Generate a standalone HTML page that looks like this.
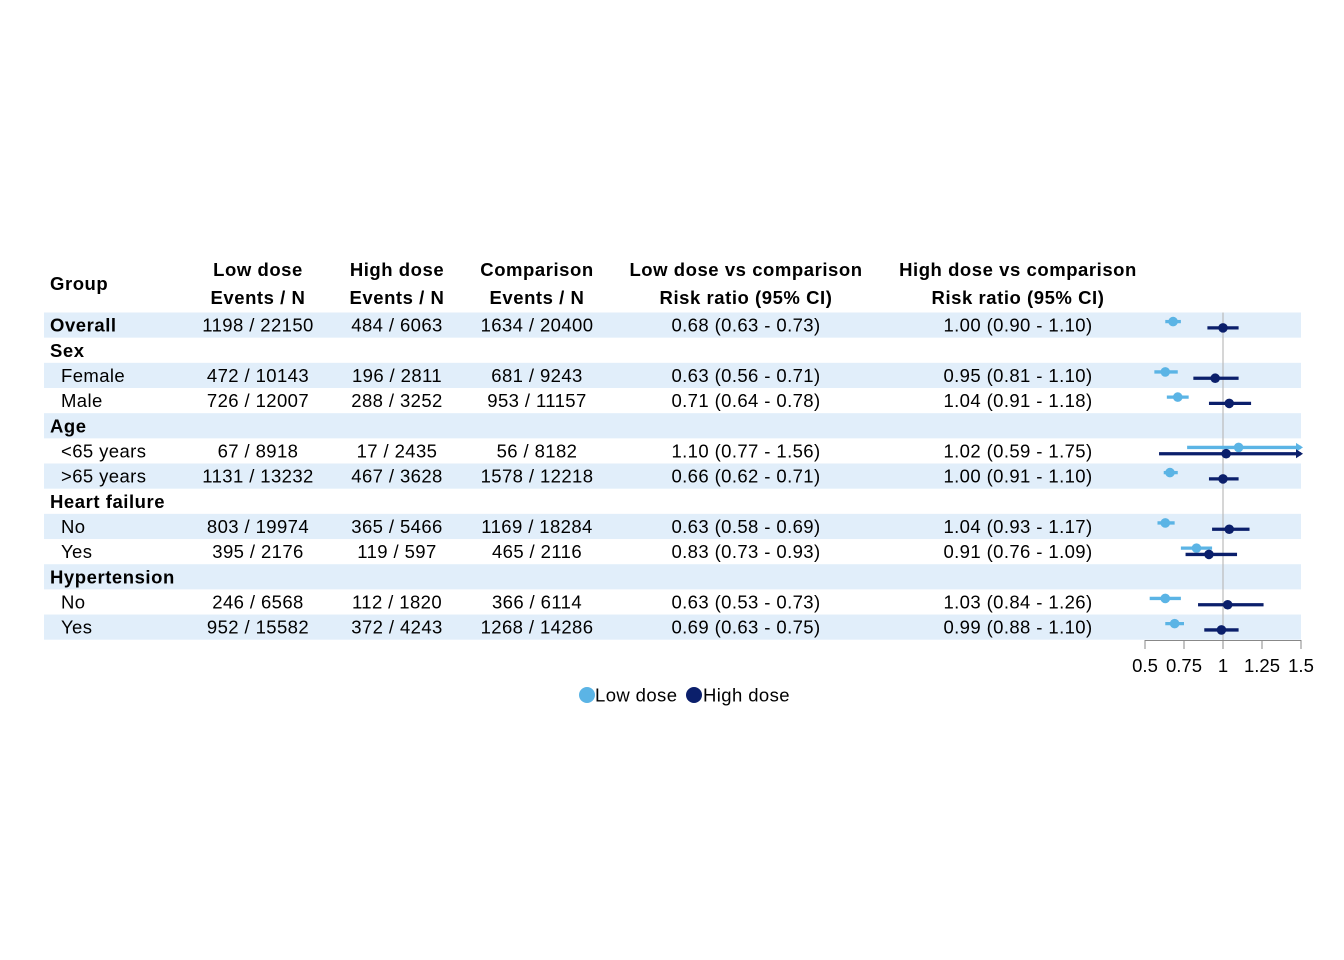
<!DOCTYPE html>
<html><head><meta charset="utf-8"><style>
body{margin:0;background:#fff;}
svg{display:block;font-family:"Liberation Sans",Arial,sans-serif;}
</style></head><body>
<svg id="chart" width="1344" height="960" xmlns="http://www.w3.org/2000/svg"></svg>
<script>
const labels=["Overall","Sex","Female","Male","Age","<65 years",">65 years","Heart failure","No","Yes","Hypertension","No","Yes"];
const isHeader=[1,1,0,0,1,0,0,1,0,0,1,0,0];
const shaded=[1,0,1,0,1,0,1,0,1,0,1,0,1];
const lowN=["1198 / 22150","","472 / 10143","726 / 12007","","67 / 8918","1131 / 13232","","803 / 19974","395 / 2176","","246 / 6568","952 / 15582"];
const highN=["484 / 6063","","196 / 2811","288 / 3252","","17 / 2435","467 / 3628","","365 / 5466","119 / 597","","112 / 1820","372 / 4243"];
const compN=["1634 / 20400","","681 / 9243","953 / 11157","","56 / 8182","1578 / 12218","","1169 / 18284","465 / 2116","","366 / 6114","1268 / 14286"];
const lowRR=[0.68,null,0.63,0.71,null,1.10,0.66,null,0.63,0.83,null,0.63,0.69];
const lowLo=[0.63,null,0.56,0.64,null,0.77,0.62,null,0.58,0.73,null,0.53,0.63];
const lowHi=[0.73,null,0.71,0.78,null,1.56,0.71,null,0.69,0.93,null,0.73,0.75];
const highRR=[1.00,null,0.95,1.04,null,1.02,1.00,null,1.04,0.91,null,1.03,0.99];
const highLo=[0.90,null,0.81,0.91,null,0.59,0.91,null,0.93,0.76,null,0.84,0.88];
const highHi=[1.10,null,1.10,1.18,null,1.75,1.10,null,1.17,1.09,null,1.26,1.10];
const ticks=[0.5,0.75,1,1.25,1.5];
const tickLabels=["0.5","0.75","1","1.25","1.5"];

const NS="http://www.w3.org/2000/svg";
const svg=document.getElementById('chart');
function mk(tag,attrs,parent){const e=document.createElementNS(NS,tag);for(const k in attrs)e.setAttribute(k,attrs[k]);(parent||svg).appendChild(e);return e;}
function txt(x,y,s,opts){const e=mk('text',Object.assign({x:x,y:y,'font-size':18.5,'letter-spacing':0.4,fill:'#000','text-anchor':'middle'},opts||{}));e.textContent=s;return e;}
const xMin=0.5,xMax=1.5,px0=1145,px1=1301;
const xs=v=>px0+(Math.min(Math.max(v,xMin),xMax)-xMin)/(xMax-xMin)*(px1-px0);
const rowTop=312.5,rowH=25.17;
const yc=i=>rowTop+rowH*i+rowH/2;
const LIGHT="#5bb4e5",DARK="#0b1f6b";

for(let i=0;i<labels.length;i++){
  if(shaded[i]){const r=mk('rect',{x:44,y:rowTop+rowH*i,width:1257,height:rowH,fill:'#e1eefa'});
  
  }
}
const hdrs=[[258,"Low dose","Events / N"],[397,"High dose","Events / N"],[537,"Comparison","Events / N"],[746,"Low dose vs comparison","Risk ratio (95% CI)"],[1018,"High dose vs comparison","Risk ratio (95% CI)"]];
let g=txt(50,290,"Group",{'text-anchor':'start','font-weight':'bold','letter-spacing':0.55});

hdrs.forEach(h=>{
  let a=txt(h[0],276,h[1],{'font-weight':'bold','letter-spacing':0.55});
  let b=txt(h[0],304,h[2],{'font-weight':'bold','letter-spacing':0.55});
});
for(let i=0;i<labels.length;i++){
  const y=yc(i)+6.5;
  let l=txt(isHeader[i]?50:61,y,labels[i],{'text-anchor':'start','font-weight':isHeader[i]?'bold':'normal','letter-spacing':isHeader[i]?0.55:0.4});
  
  if(lowN[i]){
    let a=txt(258,y,lowN[i]);
    let b=txt(397,y,highN[i]);
    let c=txt(537,y,compN[i]);
    let d=txt(746,y,lowRR[i].toFixed(2)+" ("+lowLo[i].toFixed(2)+" - "+lowHi[i].toFixed(2)+")");
    let e=txt(1018,y,highRR[i].toFixed(2)+" ("+highLo[i].toFixed(2)+" - "+highHi[i].toFixed(2)+")");
  }
}
const ref=mk('line',{x1:xs(1),x2:xs(1),y1:rowTop,y2:640,stroke:'#bbbbbb','stroke-width':1.2});

function drawCI(i,rr,lo,hi,off,col,name){
  const y=yc(i)+off;
  const ln=mk('line',{x1:xs(lo),x2:xs(hi),y1:y,y2:y,stroke:col,'stroke-width':3.3});
  
  if(hi>xMax){const p=mk('polygon',{points:`${xs(xMax)+2},${y} ${xs(xMax)-5},${y-4.5} ${xs(xMax)-5},${y+4.5}`,fill:col});
    }
  const c=mk('circle',{cx:xs(rr),cy:y,r:4.8,fill:col});
  
}
for(let i=0;i<labels.length;i++){
  if(lowRR[i]==null)continue;
  drawCI(i,lowRR[i],lowLo[i],lowHi[i],-3.5,LIGHT,'low-dose');
  drawCI(i,highRR[i],highLo[i],highHi[i],2.8,DARK,'high-dose');
}
const ax=mk('line',{x1:px0,x2:px1,y1:640.5,y2:640.5,stroke:'#888','stroke-width':1});

ticks.forEach((t,k)=>{
  const tk=mk('line',{x1:xs(t),x2:xs(t),y1:640,y2:649,stroke:'#888','stroke-width':1});
  
  const tl=txt(xs(t),672,tickLabels[k],{'letter-spacing':0});
});
const lg=mk('g',{});
const c1=mk('circle',{cx:587,cy:695,r:8,fill:LIGHT},lg);
const t1=mk('text',{x:595,y:701.5,'font-size':18.5,'letter-spacing':0.4},lg);t1.textContent="Low dose";
const c2=mk('circle',{cx:694,cy:695,r:8,fill:DARK},lg);
const t2=mk('text',{x:703,y:701.5,'font-size':18.5,'letter-spacing':0.4},lg);t2.textContent="High dose";
</script>
</body></html>
